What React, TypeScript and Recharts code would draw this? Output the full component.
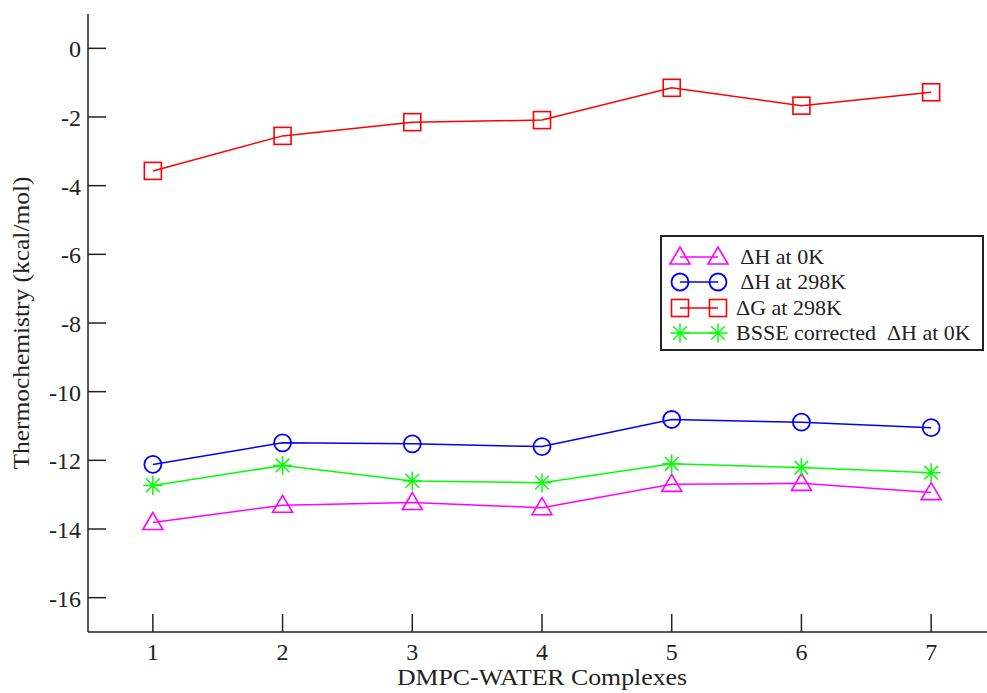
import React from "react";
import { LineChart, Line, XAxis, YAxis, Label } from "recharts";

// ---------------------------------------------------------------------------
// Data
// ---------------------------------------------------------------------------

const complexes = [1, 2, 3, 4, 5, 6, 7];
const dH0K = [-13.81, -13.31, -13.23, -13.38, -12.7, -12.67, -12.94];
const dH298K = [-12.12, -11.49, -11.52, -11.6, -10.81, -10.89, -11.05];
const dG298K = [-3.57, -2.55, -2.15, -2.09, -1.15, -1.67, -1.28];
const bsseDH0K = [-12.73, -12.15, -12.6, -12.65, -12.1, -12.21, -12.36];

const xTicks = [1, 2, 3, 4, 5, 6, 7];
const yTicks = [-16, -14, -12, -10, -8, -6, -4, -2, 0];

const data = complexes.map((c, i) => ({
  complex: c,
  dH0K: dH0K[i],
  dH298K: dH298K[i],
  dG298K: dG298K[i],
  bsse: bsseDH0K[i],
}));

const FONT = "'Liberation Serif', 'Times New Roman', serif";
const INK = "#222";
const TICK_LEN = 18;

const MAGENTA = "#ff00ff";
const BLUE = "#0000ff";
const RED = "#ff0000";
const GREEN = "#00ff00";

// ---------------------------------------------------------------------------
// Markers
// ---------------------------------------------------------------------------

type MarkProps = { cx: number; cy: number; color: string };

function Triangle({ cx, cy, color }: MarkProps) {
  return (
    <polygon
      points={`${cx},${cy - 10} ${cx - 10},${cy + 7} ${cx + 10},${cy + 7}`}
      fill="none"
      stroke={color}
      strokeWidth={1.6}
    />
  );
}

function Ring({ cx, cy, color }: MarkProps) {
  return <circle cx={cx} cy={cy} r={8.5} fill="none" stroke={color} strokeWidth={1.8} />;
}

function Square({ cx, cy, color }: MarkProps) {
  return (
    <rect x={cx - 8.5} y={cy - 8.5} width={17} height={17} fill="none" stroke={color} strokeWidth={1.6} />
  );
}

function Star({ cx, cy, color }: MarkProps) {
  const r = 9.5;
  const d = r * 0.72;
  return (
    <g stroke={color} strokeWidth={1.5}>
      <line x1={cx} y1={cy - r} x2={cx} y2={cy + r} />
      <line x1={cx - r} y1={cy} x2={cx + r} y2={cy} />
      <line x1={cx - d} y1={cy - d} x2={cx + d} y2={cy + d} />
      <line x1={cx - d} y1={cy + d} x2={cx + d} y2={cy - d} />
    </g>
  );
}

function dotOf(Shape: React.ComponentType<MarkProps>, color: string) {
  return (p: any) => <Shape key={`m-${p.index}`} cx={p.cx} cy={p.cy} color={color} />;
}

// ---------------------------------------------------------------------------
// Ticks (drawn inward, on all four sides)
// ---------------------------------------------------------------------------

function BottomTick({ x, y, payload }: any) {
  return (
    <g>
      <line x1={x} y1={y} x2={x} y2={y - TICK_LEN} stroke={INK} strokeWidth={1.5} />
      <text x={x} y={y + 28} textAnchor="middle" fontSize={24} fontFamily={FONT} fill={INK}>
        {payload.value}
      </text>
    </g>
  );
}

function TopTick({ x, y }: any) {
  return <line x1={x} y1={y} x2={x} y2={y + TICK_LEN} stroke={INK} strokeWidth={1.5} />;
}

function LeftTick({ x, y, payload }: any) {
  return (
    <g>
      <line x1={x} y1={y} x2={x + TICK_LEN} y2={y} stroke={INK} strokeWidth={1.5} />
      <text x={x - 7} y={y + 9} textAnchor="end" fontSize={24} fontFamily={FONT} fill={INK}>
        {String(payload.value)}
      </text>
    </g>
  );
}

function RightTick({ x, y }: any) {
  return <line x1={x} y1={y} x2={x - TICK_LEN} y2={y} stroke={INK} strokeWidth={1.5} />;
}

// ---------------------------------------------------------------------------
// Legend (boxed, inside the plot)
// ---------------------------------------------------------------------------

const legendItems = [
  { label: " \u0394H at 0K", color: MAGENTA, Shape: Triangle },
  { label: " \u0394H at 298K", color: BLUE, Shape: Ring },
  { label: "\u0394G at 298K", color: RED, Shape: Square },
  { label: "BSSE corrected  \u0394H at 0K", color: GREEN, Shape: Star },
];

function BoxLegend() {
  return (
    <div
      style={{
        position: "absolute",
        left: 660,
        top: 235,
        width: 320,
        height: 112,
        border: `2px solid ${INK}`,
        background: "#fff",
        boxSizing: "content-box",
        fontFamily: FONT,
        fontSize: 22,
        color: INK,
      }}
    >
      {legendItems.map((it, i) => (
        <div
          key={i}
          style={{ position: "absolute", left: 0, top: 8 + i * 25.4, height: 24, display: "flex", alignItems: "center" }}
        >
          <svg width={74} height={24} style={{ display: "block" }}>
            <line x1={18} y1={12} x2={56} y2={12} stroke={it.color} strokeWidth={1.5} />
            <it.Shape cx={18} cy={12} color={it.color} />
            <it.Shape cx={56} cy={12} color={it.color} />
          </svg>
          <span style={{ whiteSpace: "pre", lineHeight: "24px" }}>{it.label}</span>
        </div>
      ))}
    </div>
  );
}

// ---------------------------------------------------------------------------
// Axis titles
// ---------------------------------------------------------------------------

function XTitle({ viewBox }: any) {
  const { x, y, width } = viewBox;
  return (
    <text
      x={x + width / 2}
      y={y + 53}
      textAnchor="middle"
      fontSize={24}
      fontFamily={FONT}
      fill={INK}
      textLength={290}
      lengthAdjust="spacingAndGlyphs"
    >
      DMPC-WATER Complexes
    </text>
  );
}

function YTitle({ viewBox }: any) {
  const { y, height } = viewBox;
  const cx = 29;
  const cy = y + height / 2;
  return (
    <text
      x={cx}
      y={cy}
      transform={`rotate(-90 ${cx} ${cy})`}
      textAnchor="middle"
      fontSize={24}
      fontFamily={FONT}
      fill={INK}
      textLength={293}
      lengthAdjust="spacingAndGlyphs"
    >
      Thermochemistry (kcal/mol)
    </text>
  );
}

// ---------------------------------------------------------------------------
// App
// ---------------------------------------------------------------------------

export default function App() {
  return (
    <div
      style={{
        position: "absolute",
        left: 0,
        top: 0,
        width: 987,
        height: 693,
        overflow: "hidden",
        background: "#fff",
      }}
    >
      <LineChart width={1000} height={693} data={data} margin={{ top: 14, right: 4, left: 0, bottom: 0 }}>
        <XAxis
          dataKey="complex"
          type="number"
          domain={[0.5, 7.5]}
          ticks={xTicks}
          height={61}
          tickSize={0}
          tickMargin={0}
          tickLine={false}
          axisLine={{ stroke: INK, strokeWidth: 1.5 }}
          tick={<BottomTick />}
          interval={0}
        >
          <Label content={<XTitle />} />
        </XAxis>
        <XAxis
          xAxisId="top"
          orientation="top"
          dataKey="complex"
          type="number"
          domain={[0.5, 7.5]}
          ticks={xTicks}
          height={0}
          tickSize={0}
          tickMargin={0}
          tickLine={false}
          axisLine={{ stroke: INK, strokeWidth: 1.5 }}
          tick={<TopTick />}
          interval={0}
        />
        <YAxis
          type="number"
          domain={[-17, 1]}
          ticks={yTicks}
          width={88}
          tickSize={0}
          tickMargin={0}
          tickLine={false}
          axisLine={{ stroke: INK, strokeWidth: 1.5 }}
          tick={<LeftTick />}
          interval={0}
        >
          <Label content={<YTitle />} />
        </YAxis>
        <YAxis
          yAxisId="right"
          orientation="right"
          type="number"
          domain={[-17, 1]}
          ticks={yTicks}
          width={0}
          tickSize={0}
          tickMargin={0}
          tickLine={false}
          axisLine={{ stroke: INK, strokeWidth: 1.5 }}
          tick={<RightTick />}
          interval={0}
        />
        <Line
          dataKey="dH0K"
          stroke={MAGENTA}
          strokeWidth={1.5}
          dot={dotOf(Triangle, MAGENTA)}
          isAnimationActive={false}
        />
        <Line
          dataKey="dH298K"
          stroke={BLUE}
          strokeWidth={1.5}
          dot={dotOf(Ring, BLUE)}
          isAnimationActive={false}
        />
        <Line
          dataKey="dG298K"
          stroke={RED}
          strokeWidth={1.5}
          dot={dotOf(Square, RED)}
          isAnimationActive={false}
        />
        <Line
          dataKey="bsse"
          stroke={GREEN}
          strokeWidth={1.5}
          dot={dotOf(Star, GREEN)}
          isAnimationActive={false}
        />
      </LineChart>
      <BoxLegend />
    </div>
  );
}
